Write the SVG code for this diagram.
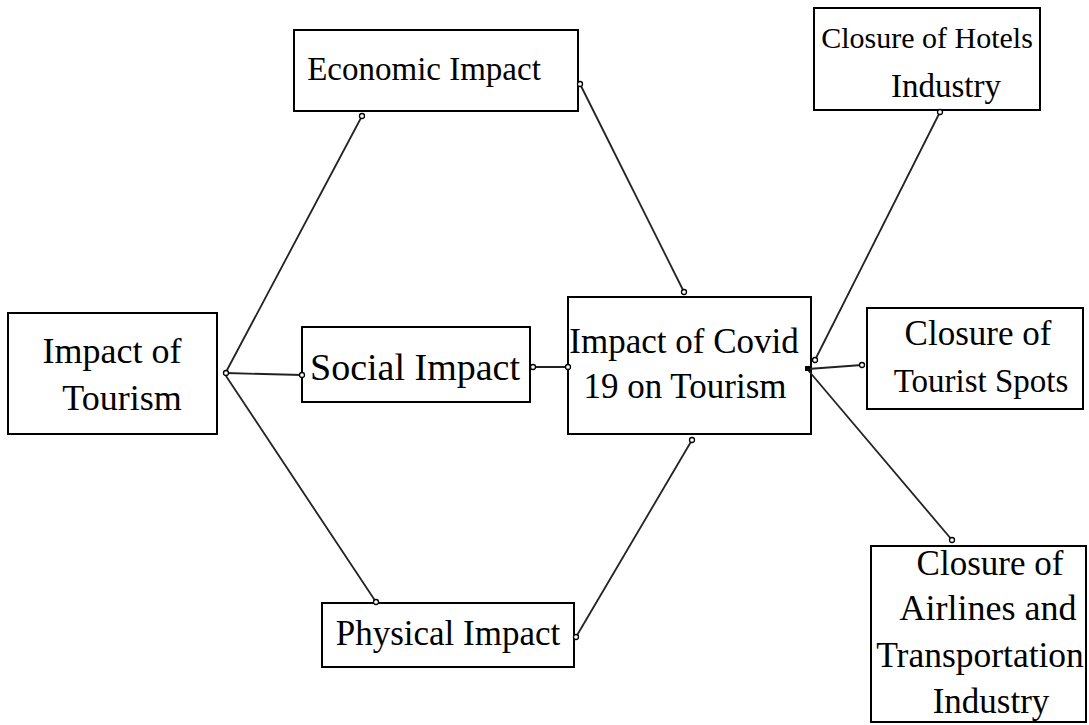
<svg xmlns="http://www.w3.org/2000/svg" width="1089" height="725" viewBox="0 0 1089 725">
<style>
.box{fill:#fff;stroke:#000;stroke-width:2}
.t{font-family:"Liberation Serif",serif;font-size:35px;fill:#000;text-anchor:middle}
.c line{stroke:#222;stroke-width:1.8}
.c circle{fill:#fff;stroke:#000;stroke-width:1.3}
</style>
<rect width="1089" height="725" fill="#fff"/>
<g id="tourism"><rect class="box" x="8" y="313" width="209" height="121"/><text class="t" x="112" y="363" style="font-size:36px">Impact of</text><text class="t" x="122" y="410" style="font-size:36px">Tourism</text></g>
<g id="economic"><rect class="box" x="294" y="30" width="284" height="81"/><text class="t" x="424" y="80" style="font-size:33px">Economic Impact</text></g>
<g id="social"><rect class="box" x="302" y="327" width="228" height="75"/><text class="t" x="415" y="380" style="font-size:38px">Social Impact</text></g>
<g id="physical"><rect class="box" x="322" y="603" width="252" height="64"/><text class="t" x="448" y="645">Physical Impact</text></g>
<g id="covid"><rect class="box" x="568" y="297" width="243" height="137"/><text class="t" x="684" y="353">Impact of Covid</text><text class="t" x="685" y="398">19 on Tourism</text></g>
<g id="hotels"><rect class="box" x="814" y="8" width="226" height="102"/><text class="t" x="927" y="48" style="font-size:30px">Closure of Hotels</text><text class="t" x="946" y="97" style="font-size:33px">Industry</text></g>
<g id="spots"><rect class="box" x="867" y="308" width="216" height="101"/><text class="t" x="978" y="345">Closure of</text><text class="t" x="981" y="392" style="font-size:33px">Tourist Spots</text></g>
<g id="airlines"><rect class="box" x="871" y="546" width="215" height="176"/><text class="t" x="990" y="575">Closure of</text><text class="t" x="988" y="620" style="font-size:36px">Airlines and</text><text class="t" x="980" y="667" style="font-size:35.5px">Transportation</text><text class="t" x="991" y="713">Industry</text></g>
<g id="connectors" class="c">
<line x1="226" y1="372" x2="362" y2="116"/>
<line x1="226" y1="373" x2="302" y2="375"/>
<line x1="226" y1="376" x2="376" y2="602"/>
<line x1="580" y1="84" x2="684" y2="292"/>
<line x1="533" y1="367" x2="568" y2="367"/>
<line x1="576" y1="637" x2="692" y2="440"/>
<line x1="815" y1="360" x2="940" y2="112"/>
<line x1="808" y1="369" x2="862" y2="365"/>
<line x1="808" y1="370" x2="952" y2="540"/>
<circle cx="226" cy="373" r="2.5"/>
<circle cx="362" cy="116" r="2.5"/>
<circle cx="302" cy="375" r="2.5"/>
<circle cx="376" cy="602" r="2.5"/>
<circle cx="580" cy="84" r="2.5"/>
<circle cx="684" cy="292" r="2.5"/>
<circle cx="533" cy="367" r="2.5"/>
<circle cx="568" cy="367" r="2.5"/>
<circle cx="576" cy="637" r="2.5"/>
<circle cx="692" cy="440" r="2.5"/>
<circle cx="815" cy="360" r="2.5"/>
<circle cx="940" cy="112" r="2.5"/>
<circle cx="862" cy="365" r="2.5"/>
<circle cx="952" cy="540" r="2.5"/>
<rect x="805" y="366" width="5" height="5" fill="#000"/>
</g>
</svg>
